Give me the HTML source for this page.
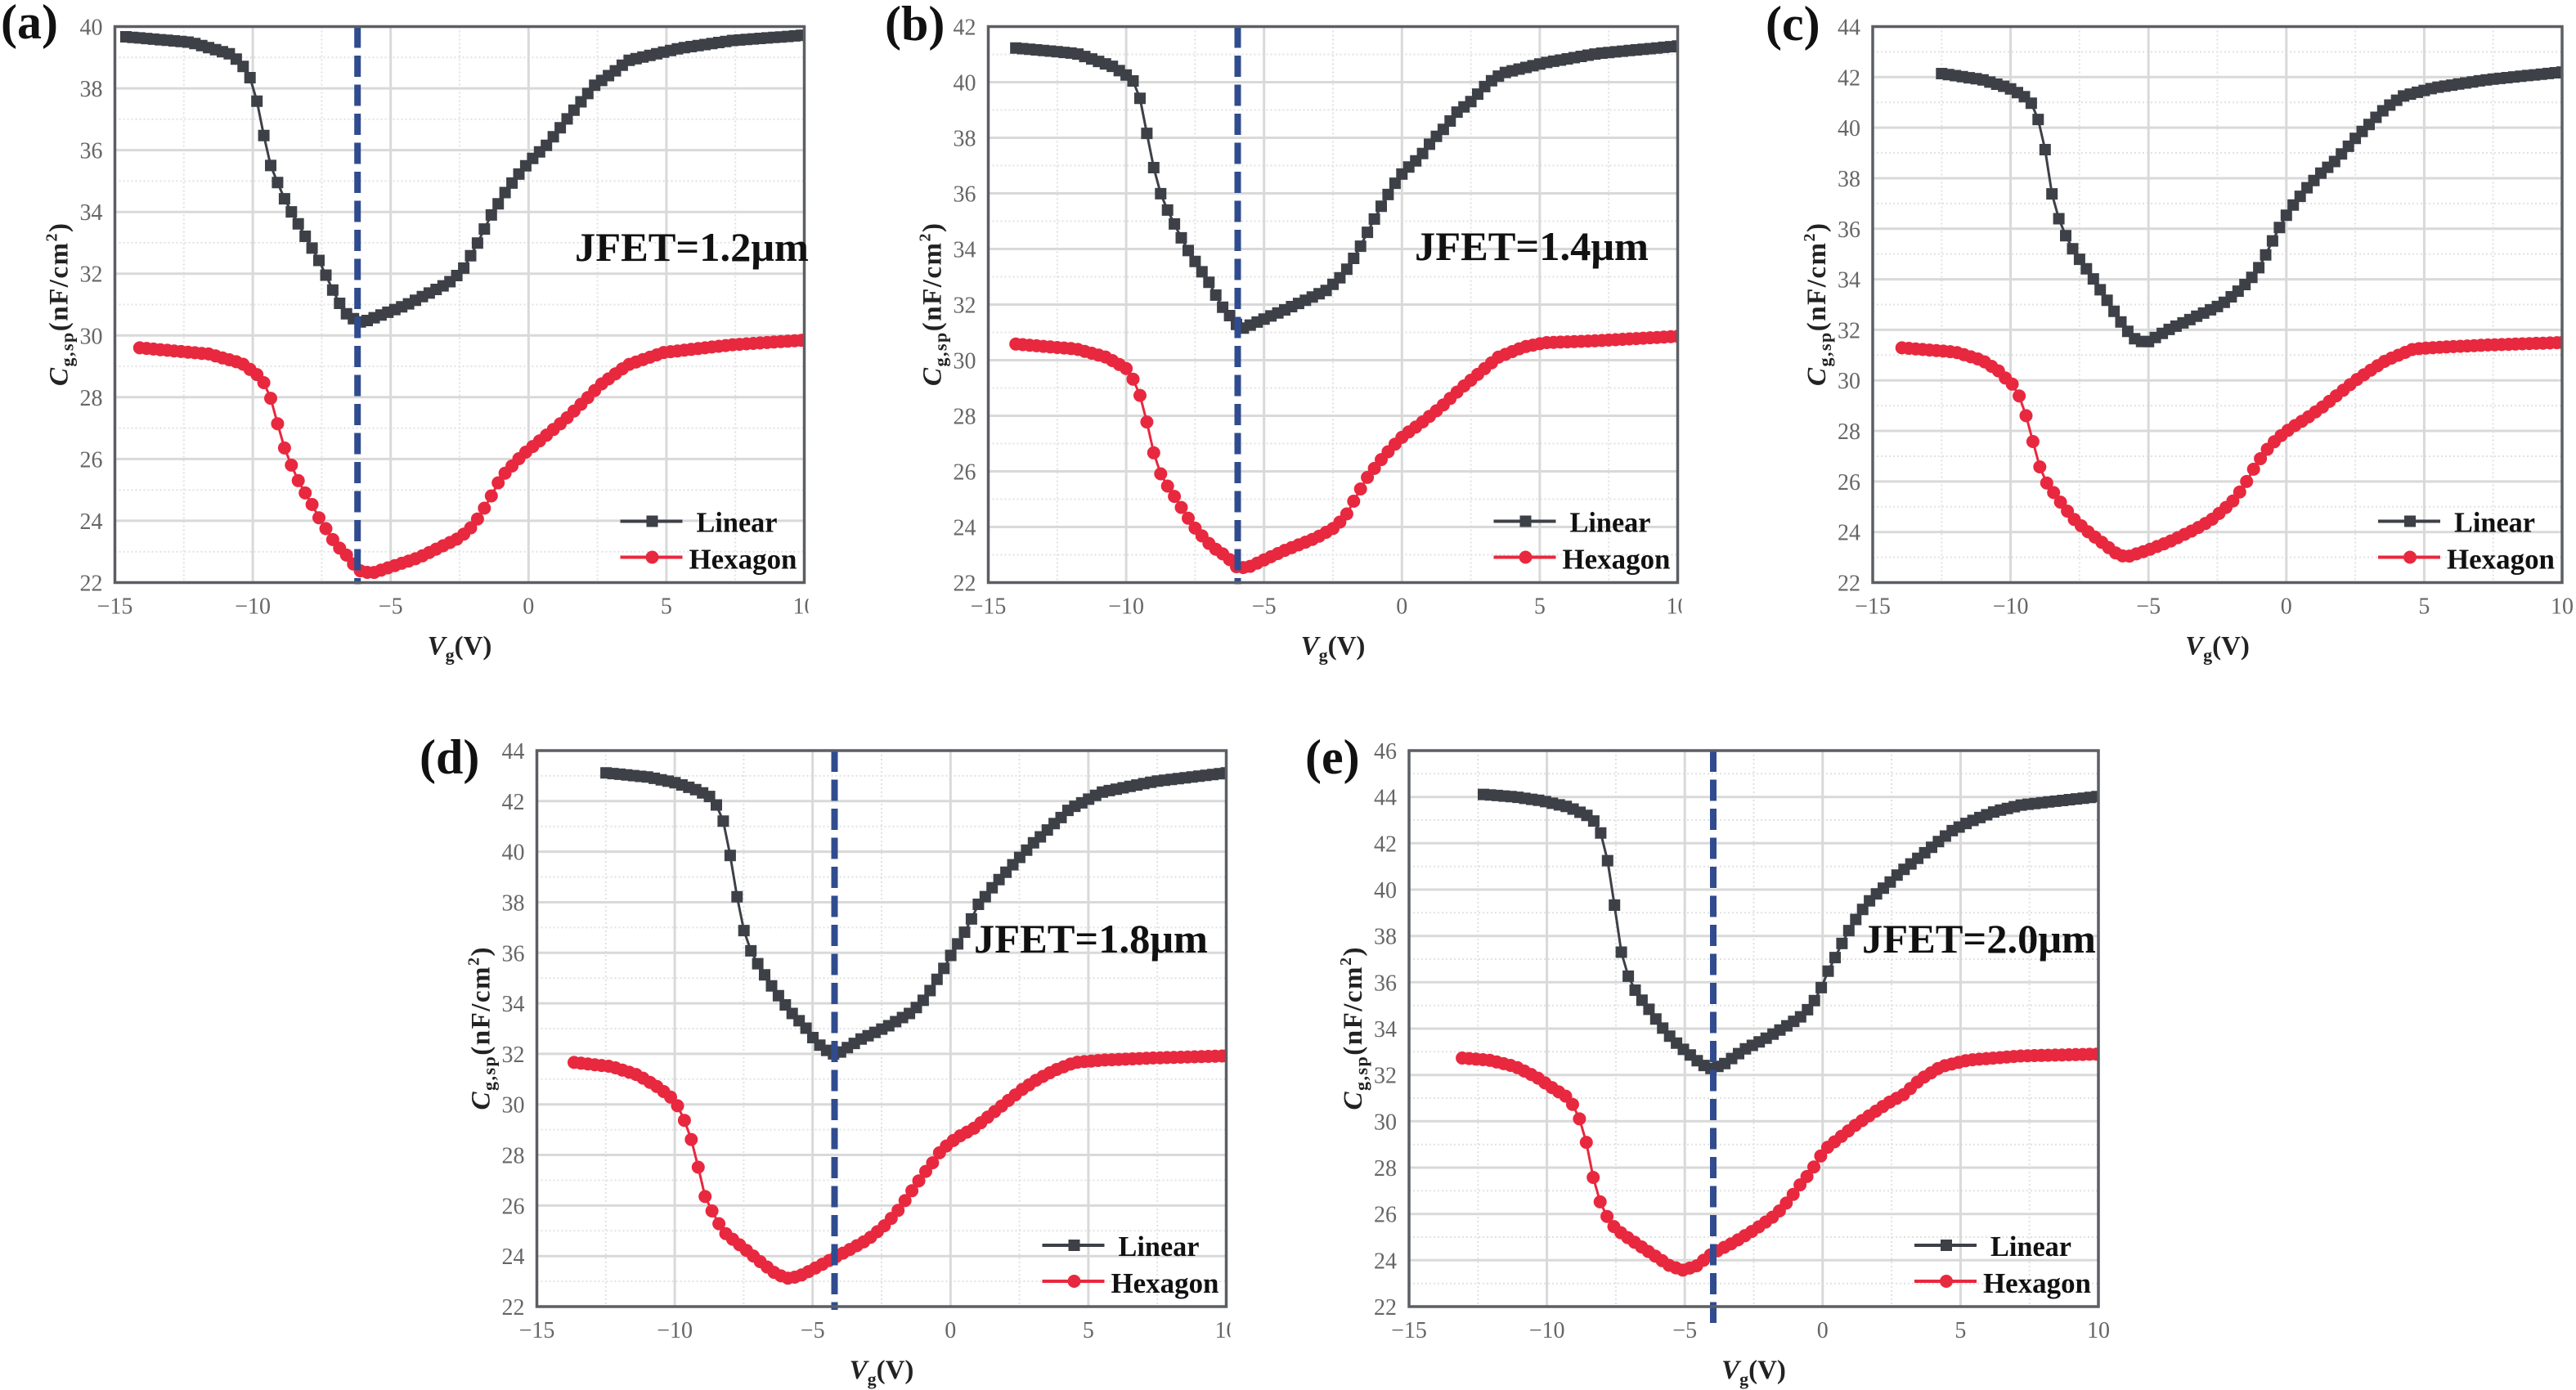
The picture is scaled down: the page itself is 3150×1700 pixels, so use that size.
<!DOCTYPE html>
<html>
<head>
<meta charset="utf-8">
<style>
html,body{margin:0;padding:0;background:#fff;}
svg{display:block;}
text{font-family:"Liberation Serif","DejaVu Serif",serif;}
.tk{font-size:28px;fill:#666;}
.tkx{font-size:28px;fill:#666;text-anchor:middle;}
.tky{font-size:28px;fill:#666;text-anchor:end;}
.lg{font-size:35px;font-weight:bold;fill:#111;}
.jf{font-size:50px;font-weight:bold;fill:#111;}
.al{font-size:33px;font-weight:bold;fill:#222;}
.pl{font-size:60px;font-weight:bold;fill:#111;}
</style>
</head>
<body>
<svg id="s" width="3150" height="1700" viewBox="0 0 3150 1700" xmlns="http://www.w3.org/2000/svg">
<defs>
  <clipPath id="tclip"><rect x="-200" y="-100" width="1048" height="1000"/></clipPath>
  <clipPath id="sclip"><rect x="-20" y="-20" width="864" height="730"/></clipPath>
</defs>
<rect x="0" y="0" width="3150" height="1700" fill="#fff"/>

<!-- Panel labels -->
<text class="pl" x="1" y="47">(a)</text>
<text class="pl" x="1082" y="49">(b)</text>
<text class="pl" x="2159" y="49">(c)</text>
<text class="pl" x="513" y="946">(d)</text>
<text class="pl" x="1596" y="946">(e)</text>

<!-- ===== Panel (a) ===== -->
<g transform="translate(140.5,32.5)">
  <g id="ga"></g>
  <line x1="296.7" y1="0" x2="296.7" y2="682" stroke="#304c8f" stroke-width="8" stroke-dasharray="26 9.5"/>
  <rect x="0" y="0" width="843" height="680" fill="none" stroke="#5b5e63" stroke-width="3.5"/>
  <line x1="618" y1="605" x2="694" y2="605" stroke="#3d4047" stroke-width="4"/>
  <rect x="650" y="598" width="14" height="14" fill="#3d4047"/>
  <line x1="618" y1="649" x2="694" y2="649" stroke="#e8283e" stroke-width="4"/>
  <circle cx="657" cy="649" r="8" fill="#e8283e"/>
  <text class="lg" x="711" y="618" textLength="99" lengthAdjust="spacingAndGlyphs">Linear</text>
  <text class="lg" x="702" y="663" textLength="132" lengthAdjust="spacingAndGlyphs">Hexagon</text>
  <text class="jf" x="562.5" y="286.5" textLength="286" lengthAdjust="spacingAndGlyphs">JFET=1.2μm</text>
  <text class="tky" x="-15" y="690">22</text>
  <text class="tky" x="-15" y="614.4">24</text>
  <text class="tky" x="-15" y="538.9">26</text>
  <text class="tky" x="-15" y="463.3">28</text>
  <text class="tky" x="-15" y="387.8">30</text>
  <text class="tky" x="-15" y="312.2">32</text>
  <text class="tky" x="-15" y="236.7">34</text>
  <text class="tky" x="-15" y="161.1">36</text>
  <text class="tky" x="-15" y="85.6">38</text>
  <text class="tky" x="-15" y="10">40</text>
  <text class="tkx" x="0" y="718">−15</text>
  <text class="tkx" x="168.6" y="718">−10</text>
  <text class="tkx" x="337.2" y="718">−5</text>
  <text class="tkx" x="505.8" y="718">0</text>
  <text class="tkx" x="674.4" y="718">5</text>
  <text class="tkx" x="843" y="718" clip-path="url(#tclip)">10</text>
  <text class="al" transform="translate(-58,340) rotate(-90)" text-anchor="middle" textLength="199" lengthAdjust="spacing"><tspan font-style="italic">C</tspan><tspan font-size="22" dy="7">g,sp</tspan><tspan dy="-7">(nF/cm</tspan><tspan font-size="20" dy="-13">2</tspan><tspan dy="13">)</tspan></text>
  <text class="al" x="421.5" y="768" text-anchor="middle"><tspan font-style="italic">V</tspan><tspan font-size="22" dy="8">g</tspan><tspan dy="-8">(V)</tspan></text>
</g>

<!-- ===== Panel (b) ===== -->
<g transform="translate(1208.5,32.5)">
  <g id="gb"></g>
  <line x1="305" y1="0" x2="305" y2="682" stroke="#304c8f" stroke-width="8" stroke-dasharray="26 9.5"/>
  <rect x="0" y="0" width="843" height="680" fill="none" stroke="#5b5e63" stroke-width="3.5"/>
  <line x1="618" y1="605" x2="694" y2="605" stroke="#3d4047" stroke-width="4"/>
  <rect x="650" y="598" width="14" height="14" fill="#3d4047"/>
  <line x1="618" y1="649" x2="694" y2="649" stroke="#e8283e" stroke-width="4"/>
  <circle cx="657" cy="649" r="8" fill="#e8283e"/>
  <text class="lg" x="711" y="618" textLength="99" lengthAdjust="spacingAndGlyphs">Linear</text>
  <text class="lg" x="702" y="663" textLength="132" lengthAdjust="spacingAndGlyphs">Hexagon</text>
  <text class="jf" x="521.5" y="285.5" textLength="286" lengthAdjust="spacingAndGlyphs">JFET=1.4μm</text>
  <text class="tky" x="-15" y="690">22</text>
  <text class="tky" x="-15" y="622">24</text>
  <text class="tky" x="-15" y="554">26</text>
  <text class="tky" x="-15" y="486">28</text>
  <text class="tky" x="-15" y="418">30</text>
  <text class="tky" x="-15" y="350">32</text>
  <text class="tky" x="-15" y="282">34</text>
  <text class="tky" x="-15" y="214">36</text>
  <text class="tky" x="-15" y="146">38</text>
  <text class="tky" x="-15" y="78">40</text>
  <text class="tky" x="-15" y="10">42</text>
  <text class="tkx" x="0" y="718">−15</text>
  <text class="tkx" x="168.6" y="718">−10</text>
  <text class="tkx" x="337.2" y="718">−5</text>
  <text class="tkx" x="505.8" y="718">0</text>
  <text class="tkx" x="674.4" y="718">5</text>
  <text class="tkx" x="843" y="718" clip-path="url(#tclip)">10</text>
  <text class="al" transform="translate(-58,340) rotate(-90)" text-anchor="middle" textLength="199" lengthAdjust="spacing"><tspan font-style="italic">C</tspan><tspan font-size="22" dy="7">g,sp</tspan><tspan dy="-7">(nF/cm</tspan><tspan font-size="20" dy="-13">2</tspan><tspan dy="13">)</tspan></text>
  <text class="al" x="421.5" y="768" text-anchor="middle"><tspan font-style="italic">V</tspan><tspan font-size="22" dy="8">g</tspan><tspan dy="-8">(V)</tspan></text>
</g>

<!-- ===== Panel (c) ===== -->
<g transform="translate(2290,32.5)">
  <g id="gc"></g>
  <rect x="0" y="0" width="843" height="680" fill="none" stroke="#5b5e63" stroke-width="3.5"/>
  <line x1="618" y1="605" x2="694" y2="605" stroke="#3d4047" stroke-width="4"/>
  <rect x="650" y="598" width="14" height="14" fill="#3d4047"/>
  <line x1="618" y1="649" x2="694" y2="649" stroke="#e8283e" stroke-width="4"/>
  <circle cx="657" cy="649" r="8" fill="#e8283e"/>
  <text class="lg" x="711" y="618" textLength="99" lengthAdjust="spacingAndGlyphs">Linear</text>
  <text class="lg" x="702" y="663" textLength="132" lengthAdjust="spacingAndGlyphs">Hexagon</text>
  <text class="tky" x="-15" y="690">22</text>
  <text class="tky" x="-15" y="628.2">24</text>
  <text class="tky" x="-15" y="566.4">26</text>
  <text class="tky" x="-15" y="504.5">28</text>
  <text class="tky" x="-15" y="442.7">30</text>
  <text class="tky" x="-15" y="380.9">32</text>
  <text class="tky" x="-15" y="319.1">34</text>
  <text class="tky" x="-15" y="257.3">36</text>
  <text class="tky" x="-15" y="195.5">38</text>
  <text class="tky" x="-15" y="133.6">40</text>
  <text class="tky" x="-15" y="71.8">42</text>
  <text class="tky" x="-15" y="10">44</text>
  <text class="tkx" x="0" y="718">−15</text>
  <text class="tkx" x="168.6" y="718">−10</text>
  <text class="tkx" x="337.2" y="718">−5</text>
  <text class="tkx" x="505.8" y="718">0</text>
  <text class="tkx" x="674.4" y="718">5</text>
  <text class="tkx" x="843" y="718">10</text>
  <text class="al" transform="translate(-58,340) rotate(-90)" text-anchor="middle" textLength="199" lengthAdjust="spacing"><tspan font-style="italic">C</tspan><tspan font-size="22" dy="7">g,sp</tspan><tspan dy="-7">(nF/cm</tspan><tspan font-size="20" dy="-13">2</tspan><tspan dy="13">)</tspan></text>
  <text class="al" x="421.5" y="768" text-anchor="middle"><tspan font-style="italic">V</tspan><tspan font-size="22" dy="8">g</tspan><tspan dy="-8">(V)</tspan></text>
</g>

<!-- ===== Panel (d) ===== -->
<g transform="translate(656.5,918)">
  <g id="gd"></g>
  <line x1="364" y1="0" x2="364" y2="684" stroke="#304c8f" stroke-width="8" stroke-dasharray="26 9.5"/>
  <rect x="0" y="0" width="843" height="680" fill="none" stroke="#5b5e63" stroke-width="3.5"/>
  <line x1="618" y1="605" x2="694" y2="605" stroke="#3d4047" stroke-width="4"/>
  <rect x="650" y="598" width="14" height="14" fill="#3d4047"/>
  <line x1="618" y1="649" x2="694" y2="649" stroke="#e8283e" stroke-width="4"/>
  <circle cx="657" cy="649" r="8" fill="#e8283e"/>
  <text class="lg" x="711" y="618" textLength="99" lengthAdjust="spacingAndGlyphs">Linear</text>
  <text class="lg" x="702" y="663" textLength="132" lengthAdjust="spacingAndGlyphs">Hexagon</text>
  <text class="jf" x="534.5" y="247" textLength="286" lengthAdjust="spacingAndGlyphs">JFET=1.8μm</text>
  <text class="tky" x="-15" y="690">22</text>
  <text class="tky" x="-15" y="628.2">24</text>
  <text class="tky" x="-15" y="566.4">26</text>
  <text class="tky" x="-15" y="504.5">28</text>
  <text class="tky" x="-15" y="442.7">30</text>
  <text class="tky" x="-15" y="380.9">32</text>
  <text class="tky" x="-15" y="319.1">34</text>
  <text class="tky" x="-15" y="257.3">36</text>
  <text class="tky" x="-15" y="195.5">38</text>
  <text class="tky" x="-15" y="133.6">40</text>
  <text class="tky" x="-15" y="71.8">42</text>
  <text class="tky" x="-15" y="10">44</text>
  <text class="tkx" x="0" y="718">−15</text>
  <text class="tkx" x="168.6" y="718">−10</text>
  <text class="tkx" x="337.2" y="718">−5</text>
  <text class="tkx" x="505.8" y="718">0</text>
  <text class="tkx" x="674.4" y="718">5</text>
  <text class="tkx" x="843" y="718" clip-path="url(#tclip)">10</text>
  <text class="al" transform="translate(-58,340) rotate(-90)" text-anchor="middle" textLength="199" lengthAdjust="spacing"><tspan font-style="italic">C</tspan><tspan font-size="22" dy="7">g,sp</tspan><tspan dy="-7">(nF/cm</tspan><tspan font-size="20" dy="-13">2</tspan><tspan dy="13">)</tspan></text>
  <text class="al" x="421.5" y="768" text-anchor="middle"><tspan font-style="italic">V</tspan><tspan font-size="22" dy="8">g</tspan><tspan dy="-8">(V)</tspan></text>
</g>

<!-- ===== Panel (e) ===== -->
<g transform="translate(1723,918)">
  <g id="ge"></g>
  <line x1="372" y1="0" x2="372" y2="700" stroke="#304c8f" stroke-width="8" stroke-dasharray="26 9.5"/>
  <rect x="0" y="0" width="843" height="680" fill="none" stroke="#5b5e63" stroke-width="3.5"/>
  <line x1="618" y1="605" x2="694" y2="605" stroke="#3d4047" stroke-width="4"/>
  <rect x="650" y="598" width="14" height="14" fill="#3d4047"/>
  <line x1="618" y1="649" x2="694" y2="649" stroke="#e8283e" stroke-width="4"/>
  <circle cx="657" cy="649" r="8" fill="#e8283e"/>
  <text class="lg" x="711" y="618" textLength="99" lengthAdjust="spacingAndGlyphs">Linear</text>
  <text class="lg" x="702" y="663" textLength="132" lengthAdjust="spacingAndGlyphs">Hexagon</text>
  <text class="jf" x="554" y="247" textLength="286" lengthAdjust="spacingAndGlyphs">JFET=2.0μm</text>
  <text class="tky" x="-15" y="690">22</text>
  <text class="tky" x="-15" y="633.3">24</text>
  <text class="tky" x="-15" y="576.7">26</text>
  <text class="tky" x="-15" y="520">28</text>
  <text class="tky" x="-15" y="463.3">30</text>
  <text class="tky" x="-15" y="406.7">32</text>
  <text class="tky" x="-15" y="350">34</text>
  <text class="tky" x="-15" y="293.3">36</text>
  <text class="tky" x="-15" y="236.7">38</text>
  <text class="tky" x="-15" y="180">40</text>
  <text class="tky" x="-15" y="123.3">42</text>
  <text class="tky" x="-15" y="66.7">44</text>
  <text class="tky" x="-15" y="10">46</text>
  <text class="tkx" x="0" y="718">−15</text>
  <text class="tkx" x="168.6" y="718">−10</text>
  <text class="tkx" x="337.2" y="718">−5</text>
  <text class="tkx" x="505.8" y="718">0</text>
  <text class="tkx" x="674.4" y="718">5</text>
  <text class="tkx" x="843" y="718">10</text>
  <text class="al" transform="translate(-58,340) rotate(-90)" text-anchor="middle" textLength="199" lengthAdjust="spacing"><tspan font-style="italic">C</tspan><tspan font-size="22" dy="7">g,sp</tspan><tspan dy="-7">(nF/cm</tspan><tspan font-size="20" dy="-13">2</tspan><tspan dy="13">)</tspan></text>
  <text class="al" x="421.5" y="768" text-anchor="middle"><tspan font-style="italic">V</tspan><tspan font-size="22" dy="8">g</tspan><tspan dy="-8">(V)</tspan></text>
</g>
</svg>

<script>
(function(){
var W=843,H=680,NS='http://www.w3.org/2000/svg';
function el(tag,attrs,parent){var e=document.createElementNS(NS,tag);for(var k in attrs)e.setAttribute(k,attrs[k]);parent.appendChild(e);return e;}
function gx(x){return (x+15)*W/25;}
function interp(d,x){
  if(x<=d[0][0])return d[0][1];
  for(var i=1;i<d.length;i++){
    if(x<=d[i][0]){var t=(x-d[i-1][0])/(d[i][0]-d[i-1][0]);return d[i-1][1]+t*(d[i][1]-d[i-1][1]);}
  }
  return d[d.length-1][1];
}
var P={
a:{ymax:40,
lin:[[-14.6,39.67],[-12.25,39.49],[-10.77,39.1],[-10.52,38.88],[-10.22,38.58],[-9.95,38.05],[-9.68,36.8],[-9.38,35.57],[-9.06,34.86],[-8.77,34.26],[-8.44,33.76],[-8.14,33.27],[-7.85,32.83],[-7.52,32.3],[-7.24,31.73],[-6.93,31.15],[-6.61,30.71],[-6.2,30.45],[-6.0,30.43],[-4.4,31.0],[-2.9,31.7],[-2.4,32.1],[-1.9,32.9],[-1.35,33.9],[-0.8,34.7],[-0.2,35.4],[0.17,35.75],[0.7,36.2],[1.3,36.9],[1.7,37.35],[2.4,38.1],[3.2,38.6],[3.6,38.9],[5.5,39.3],[7.4,39.55],[10,39.72]],
hex:[[-14.1,29.6],[-11.6,29.4],[-10.4,29.1],[-9.8,28.7],[-9.45,28.3],[-9.15,27.3],[-8.8,26.2],[-8.5,25.6],[-8.25,25.1],[-7.95,24.7],[-7.6,24.1],[-7.0,23.25],[-6.5,22.8],[-6.2,22.4],[-5.7,22.3],[-4.0,22.8],[-2.5,23.45],[-2.0,23.85],[-1.5,24.55],[-1.0,25.4],[-0.2,26.15],[0.35,26.55],[1.3,27.25],[2.05,27.9],[2.6,28.4],[3.6,29.05],[4.9,29.45],[7.4,29.7],[10,29.85]]},
b:{ymax:42,
lin:[[-14.0,41.23],[-11.8,41.03],[-10.5,40.57],[-10.0,40.26],[-9.7,40.0],[-9.46,39.3],[-9.14,37.56],[-8.84,36.2],[-8.5,35.4],[-8.2,34.8],[-7.95,34.3],[-7.67,33.8],[-7.33,33.3],[-7.0,32.8],[-6.7,32.25],[-6.44,31.8],[-6.15,31.5],[-5.87,31.1],[-4.27,31.8],[-2.76,32.5],[-2.3,32.9],[-1.9,33.4],[-1.5,34.1],[-1.15,34.8],[-0.77,35.5],[-0.3,36.3],[0.08,36.8],[0.65,37.3],[1.1,37.9],[1.6,38.4],[1.97,38.9],[2.5,39.3],[3.1,39.95],[3.67,40.33],[5.2,40.7],[7.1,41.03],[10,41.3]],
hex:[[-14.0,30.58],[-11.8,30.4],[-10.7,30.1],[-10.0,29.7],[-9.7,29.24],[-9.37,28.4],[-9.1,27.0],[-8.8,26.0],[-8.46,25.4],[-8.18,25.0],[-7.86,24.47],[-7.48,23.93],[-6.9,23.3],[-6.35,22.93],[-5.97,22.54],[-5.6,22.54],[-4.27,23.15],[-3.13,23.6],[-2.4,24.0],[-2.0,24.47],[-1.6,25.2],[-1.24,25.8],[-0.77,26.4],[-0.3,26.93],[0.08,27.3],[0.65,27.7],[1.4,28.3],[2.16,29.0],[2.73,29.47],[3.48,30.1],[4.4,30.47],[5.2,30.63],[7.1,30.7],[10,30.86]]},
c:{ymax:44,
lin:[[-12.5,42.14],[-11.04,41.9],[-10.08,41.58],[-9.6,41.3],[-9.3,41.07],[-9.05,40.56],[-8.76,39.2],[-8.47,37.17],[-8.18,36.15],[-7.86,35.4],[-7.57,34.9],[-7.28,34.46],[-6.99,34.0],[-6.7,33.5],[-6.4,33.0],[-6.12,32.5],[-5.8,32.0],[-5.44,31.58],[-5.06,31.5],[-4.28,32.0],[-3.32,32.5],[-2.35,33.0],[-1.78,33.5],[-1.3,34.0],[-1.0,34.46],[-0.71,35.05],[-0.42,35.7],[-0.13,36.3],[0.15,36.8],[0.44,37.2],[0.73,37.6],[1.02,37.93],[1.31,38.27],[1.7,38.6],[1.99,38.95],[2.28,39.3],[2.57,39.66],[2.86,39.97],[3.24,40.4],[3.63,40.8],[4.2,41.24],[5.37,41.58],[7.3,41.9],[10,42.2]],
hex:[[-13.94,31.29],[-12.0,31.12],[-11.04,30.8],[-10.46,30.4],[-10.08,29.97],[-9.88,29.8],[-9.65,29.3],[-9.34,28.27],[-9.02,26.8],[-8.73,26.0],[-8.38,25.47],[-8.05,24.97],[-7.66,24.46],[-7.18,24.0],[-6.7,23.6],[-6.2,23.18],[-5.83,23.0],[-5.06,23.27],[-4.28,23.6],[-3.32,24.1],[-2.74,24.46],[-2.26,24.9],[-1.87,25.3],[-1.49,25.9],[-1.1,26.66],[-0.71,27.25],[-0.33,27.7],[0.15,28.1],[0.73,28.5],[1.31,28.95],[1.89,29.46],[2.47,29.97],[3.05,30.4],[3.63,30.8],[4.6,31.24],[5.37,31.3],[7.3,31.4],[10,31.5]]},
d:{ymax:44,
lin:[[-12.49,43.12],[-10.95,42.95],[-9.98,42.73],[-9.2,42.44],[-8.73,42.18],[-8.49,41.85],[-8.19,41.08],[-7.9,39.3],[-7.62,37.4],[-7.34,36.28],[-6.99,35.57],[-6.7,35.06],[-6.41,34.55],[-6.12,34.13],[-5.83,33.7],[-5.54,33.37],[-5.25,33.03],[-4.96,32.6],[-4.67,32.26],[-4.28,32.0],[-4.1,32.0],[-3.22,32.6],[-2.26,33.1],[-1.49,33.6],[-1.1,33.96],[-0.81,34.38],[-0.52,34.9],[-0.23,35.4],[0.06,36.0],[0.44,36.67],[0.73,37.27],[1.02,37.94],[1.31,38.28],[1.6,38.7],[1.89,39.05],[2.18,39.39],[2.47,39.73],[2.76,40.06],[3.05,40.4],[3.34,40.66],[3.63,41.0],[3.92,41.25],[4.3,41.68],[4.88,42.0],[5.46,42.35],[7.4,42.78],[10,43.12]],
hex:[[-13.65,31.66],[-12.3,31.5],[-11.33,31.16],[-10.56,30.65],[-9.98,30.14],[-9.8,29.7],[-9.5,29.04],[-9.2,27.76],[-8.92,26.4],[-8.59,25.65],[-8.24,24.97],[-7.86,24.63],[-7.37,24.2],[-6.9,23.78],[-6.3,23.27],[-5.83,23.1],[-5.35,23.27],[-4.77,23.6],[-4.19,23.95],[-3.6,24.29],[-3.03,24.63],[-2.45,25.14],[-1.97,25.7],[-1.58,26.3],[-1.2,26.9],[-0.9,27.35],[-0.6,27.76],[-0.33,28.2],[0.25,28.7],[0.83,29.04],[1.41,29.55],[1.99,30.06],[2.57,30.57],[3.15,30.99],[3.73,31.33],[4.5,31.66],[5.46,31.75],[7.4,31.84],[10,31.92]]},
e:{ymax:46,
lin:[[-12.3,44.11],[-11.14,44.0],[-10.17,43.83],[-9.2,43.56],[-8.53,43.19],[-8.24,42.9],[-7.95,42.2],[-7.66,40.36],[-7.37,37.64],[-7.12,36.43],[-6.8,35.66],[-6.5,35.14],[-6.2,34.68],[-5.93,34.2],[-5.54,33.66],[-5.15,33.2],[-4.77,32.83],[-4.38,32.45],[-4.03,32.27],[-3.6,32.45],[-2.84,33.1],[-2.07,33.57],[-1.3,34.12],[-0.71,34.58],[-0.33,35.14],[-0.04,35.79],[0.25,36.62],[0.54,37.27],[0.83,38.0],[1.22,38.75],[1.6,39.4],[1.99,39.86],[2.37,40.23],[2.76,40.7],[3.15,41.06],[3.53,41.43],[3.92,41.8],[4.3,42.17],[4.69,42.54],[5.27,42.9],[6.24,43.37],[7.2,43.65],[10,44.02]],
hex:[[-13.07,32.73],[-12.1,32.64],[-11.14,32.36],[-10.37,31.9],[-9.8,31.44],[-9.3,31.07],[-9.05,30.7],[-8.78,30.0],[-8.47,28.66],[-8.24,27.0],[-7.91,26.07],[-7.63,25.52],[-7.28,25.15],[-6.7,24.68],[-6.12,24.22],[-5.54,23.76],[-5.06,23.57],[-4.57,23.76],[-4.0,24.3],[-3.22,24.77],[-2.45,25.33],[-1.68,25.98],[-1.2,26.63],[-0.81,27.27],[-0.42,27.83],[-0.14,28.39],[0.15,28.85],[0.64,29.31],[1.22,29.86],[1.8,30.33],[2.37,30.79],[2.95,31.16],[3.53,31.8],[4.3,32.36],[5.27,32.64],[7.2,32.82],[10,32.9]]}
};
for(var id in P){
  var p=P[id];
  var g=document.getElementById('g'+id);
  if(!g)continue;
  var span=p.ymax-22;
  var gy=(function(span){return function(v){return H-(v-22)*H/span;};})(span);
  var n=span/2;
  var dm='';
  for(var i=0;i<5;i++){var x=gx(-12.5+5*i);dm+='M'+x.toFixed(1)+',0V'+H;}
  for(var k=0;k<n;k++){var y=gy(23+2*k);dm+='M0,'+y.toFixed(1)+'H'+W;}
  el('path',{d:dm,stroke:'#e2e2e2','stroke-width':2,'stroke-dasharray':'2 3',fill:'none'},g);
  var dM='';
  for(var i2=1;i2<5;i2++){var x2=gx(-15+5*i2);dM+='M'+x2.toFixed(1)+',0V'+H;}
  for(var k2=1;k2<n;k2++){var y2=gy(22+2*k2);dM+='M0,'+y2.toFixed(1)+'H'+W;}
  el('path',{d:dM,stroke:'#d9d9d9','stroke-width':3,fill:'none'},g);
  var sg=el('g',{'clip-path':'url(#sclip)'},g);
  var defs=[['lin','#3d4047','sq'],['hex','#e8283e','ci']];
  for(var s=0;s<2;s++){
    var data=p[defs[s][0]],col=defs[s][1],typ=defs[s][2];
    var xs=[];var x0=data[0][0];
    for(var xv=x0;xv<=10.0001;xv+=0.25)xs.push(xv);
    if(10-xs[xs.length-1]>0.08)xs.push(10);
    var pts=xs.map(function(xv){return [gx(xv),gy(interp(data,xv))];});
    var dl='M'+pts.map(function(q){return q[0].toFixed(1)+','+q[1].toFixed(1);}).join('L');
    el('path',{d:dl,stroke:col,'stroke-width':3,fill:'none','stroke-linejoin':'round'},sg);
    var dmk='';
    pts.forEach(function(q){
      if(typ==='sq'){dmk+='M'+(q[0]-7).toFixed(1)+','+(q[1]-7).toFixed(1)+'h14v14h-14z';}
      else{var r=8;dmk+='M'+(q[0]-r).toFixed(1)+','+q[1].toFixed(1)+'a'+r+','+r+' 0 1,0 '+(2*r)+',0a'+r+','+r+' 0 1,0 '+(-2*r)+',0z';}
    });
    el('path',{d:dmk,fill:col,stroke:'none'},sg);
  }
}
})();
</script>
</body>
</html>
